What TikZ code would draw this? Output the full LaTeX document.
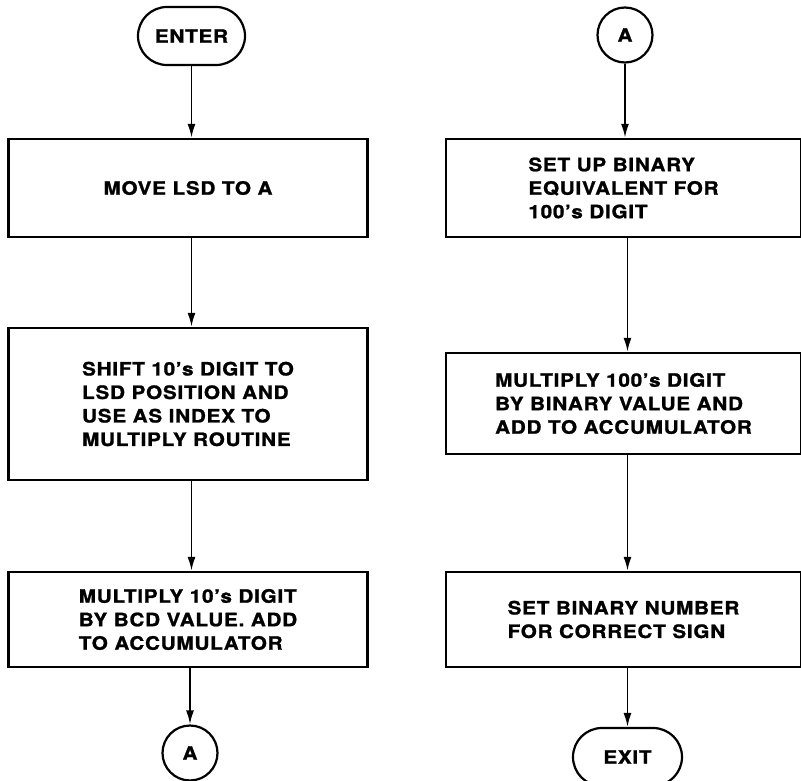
\documentclass[tikz,border=0pt]{standalone}
\usepackage{fontspec}
\newfontfamily\flowfont{TeX Gyre Heros}[LetterSpace=4,FakeStretch=1.12,FakeBold=1.2]
\usetikzlibrary{arrows.meta,shapes.misc}
\begin{document}
\begin{tikzpicture}[x=1pt,y=-1pt,
  txt/.style={font=\flowfont\bfseries\fontsize{18.5}{23.5}\selectfont},
  proc/.style={txt, draw, line width=2.4pt, minimum width=359pt, align=left, inner sep=0pt},
  term/.style={txt, draw, line width=2.2pt, rounded rectangle, minimum width=107pt, minimum height=58pt, inner sep=0pt},
  conn/.style={txt, draw, circle, line width=2.2pt, minimum size=55pt, inner sep=0pt},
  flow/.style={line width=1.9pt, -{Latex[length=14pt,width=8pt]}}]
\useasboundingbox (0,0) rectangle (801,781);
% left column
\node[term] (enter) at (191.5,36) {ENTER};
\node[proc, minimum height=98pt] (l1) at (188,188) {MOVE LSD TO A};
\node[proc, minimum height=152pt] (l2) at (188,404) {SHIFT 10’s DIGIT TO\\LSD POSITION AND\\USE AS INDEX TO\\MULTIPLY ROUTINE};
\node[proc, minimum height=95pt] (l3) at (188,619.5) {MULTIPLY 10’s DIGIT\\BY BCD VALUE. ADD\\TO ACCUMULATOR};
\node[conn] (al) at (190,753) {A};
% right column
\node[conn] (ar) at (625,35) {A};
\node[proc, minimum width=355pt, minimum height=98pt] (r1) at (623.5,188) {SET UP BINARY\\EQUIVALENT FOR\\100’s DIGIT};
\node[proc, minimum width=355pt, minimum height=101pt] (r2) at (623.5,403.5) {MULTIPLY 100’s DIGIT\\BY BINARY VALUE AND\\ADD TO ACCUMULATOR};
\node[proc, minimum width=355pt, minimum height=95pt] (r3) at (623.5,619.5) {SET BINARY NUMBER\\FOR CORRECT SIGN};
\node[term, minimum width=109pt] (exit) at (627.5,757) {EXIT};
% connectors
\draw[flow] (enter.south) -- (enter.south |- l1.north);
\draw[flow] (enter.south |- l1.south) -- (enter.south |- l2.north);
\draw[flow] (enter.south |- l2.south) -- (enter.south |- l3.north);
\draw[flow] (al.north |- l3.south) -- (al.north);
\draw[flow] (ar.south) -- (ar.south |- r1.north);
\draw[flow] (exit.north |- r1.south) -- (exit.north |- r2.north);
\draw[flow] (exit.north |- r2.south) -- (exit.north |- r3.north);
\draw[flow] (exit.north |- r3.south) -- (exit.north);
\end{tikzpicture}
\end{document}
